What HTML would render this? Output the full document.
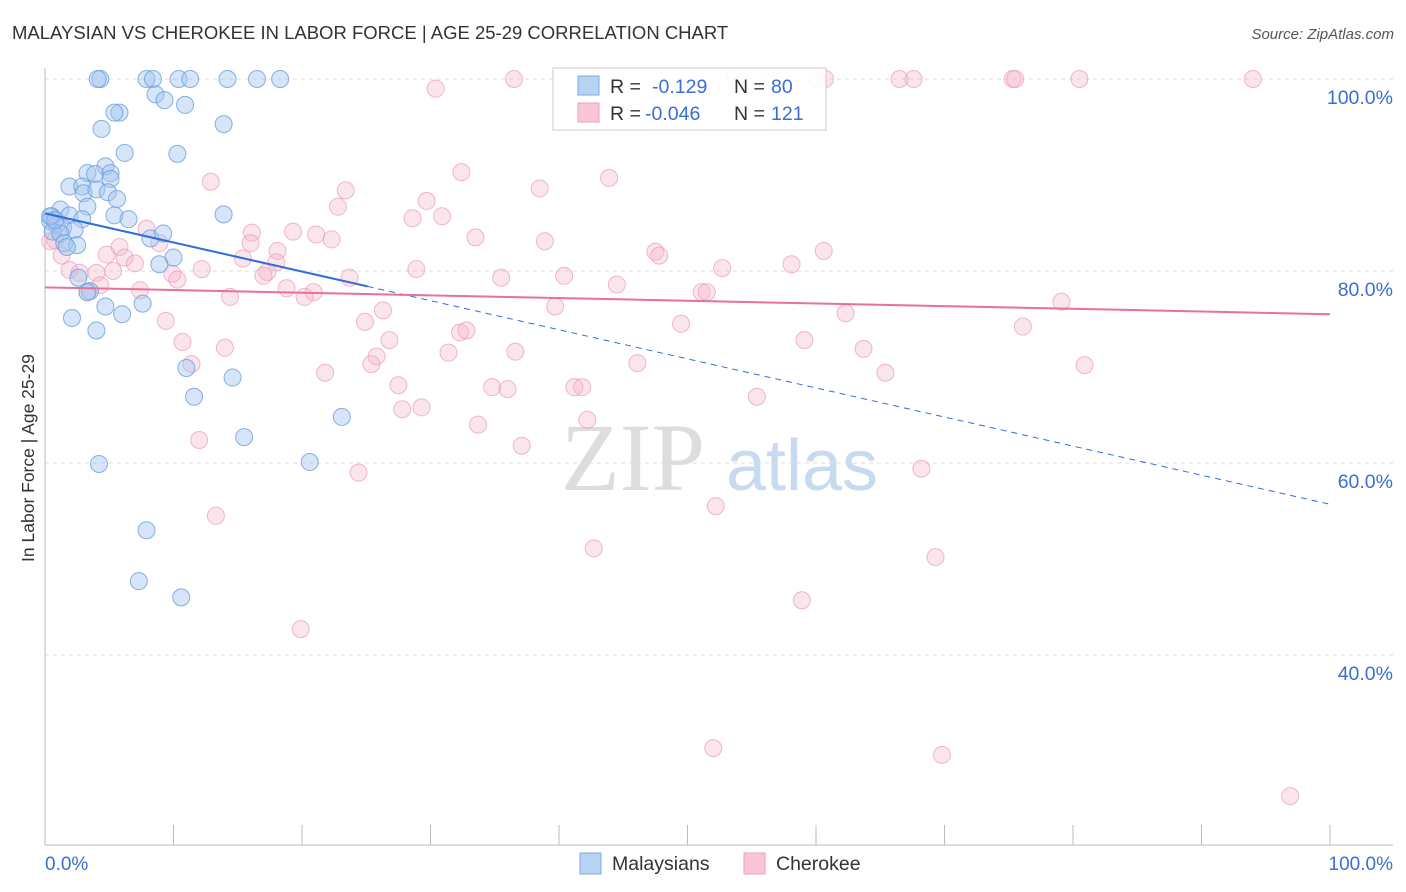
<!DOCTYPE html>
<html><head><meta charset="utf-8"><style>
body{margin:0;background:#fff;font-family:"Liberation Sans",sans-serif;}
svg{display:block}
</style></head><body>
<svg id="c" width="1406" height="892" xmlns="http://www.w3.org/2000/svg">
<text x="12" y="39" font-size="18.5" fill="#333">MALAYSIAN VS CHEROKEE IN LABOR FORCE | AGE 25-29 CORRELATION CHART</text>
<text x="1394" y="39" font-size="15" fill="#555" font-style="italic" text-anchor="end">Source: ZipAtlas.com</text>
<text transform="translate(34,458) rotate(-90)" font-size="17.5" fill="#333" text-anchor="middle">In Labor Force | Age 25-29</text>
<g><text x="633" y="490" font-size="96" fill="#ddd" font-family="Liberation Serif" text-anchor="middle">ZIP</text><text x="802" y="490" font-size="72" fill="#c8daf0" text-anchor="middle">atlas</text></g>
<g id="grid"></g><g id="axes"></g><g id="pts"></g><g id="trend"></g>
<g>
<rect x="553" y="68" width="273" height="62" fill="#fff" fill-opacity="0.9" stroke="#ccc"/>
<rect x="578" y="76" width="21" height="19" fill="#b8d2f4" stroke="#7aaae8"/>
<text x="610" y="93" font-size="19.5" fill="#333">R = </text><text x="652" y="93" font-size="19.5" fill="#3a6fd0">-0.129</text>
<text x="734" y="93" font-size="19.5" fill="#333">N = </text><text x="771" y="93" font-size="19.5" fill="#3a6fd0">80</text>
<rect x="578" y="103" width="21" height="19" fill="#f8c6d6" stroke="#eea0bc"/>
<text x="610" y="120" font-size="19.5" fill="#333">R = </text><text x="645" y="120" font-size="19.5" fill="#3a6fd0">-0.046</text>
<text x="734" y="120" font-size="19.5" fill="#333">N = </text><text x="771" y="120" font-size="19.5" fill="#3a6fd0">121</text>
</g>
<g>
<rect x="580" y="853" width="21" height="21" fill="#b8d2f4" stroke="#7aaae8"/>
<text x="612" y="870" font-size="19.5" fill="#333">Malaysians</text>
<rect x="744" y="853" width="21" height="21" fill="#f8c6d6" stroke="#eea0bc"/>
<text x="776" y="870" font-size="19.5" fill="#333">Cherokee</text>
</g>
</svg>
<script>
const blueX=[4.3,4.1,7.9,8.4,10.4,11.3,14.2,16.5,18.3,8.6,9.3,10.9,5.8,5.4,4.4,13.9,6.2,10.3,4.7,3.3,3.9,5.1,5.1,1.9,2.9,3.0,4.0,4.9,5.6,3.3,1.2,0.5,1.9,2.9,5.4,6.5,13.9,0.4,0.9,1.4,2.3,0.6,1.2,1.5,2.5,8.2,9.2,1.7,10.0,8.9,2.6,3.5,3.3,4.7,2.1,6.0,7.6,4.0,11.0,14.6,11.6,15.5,23.1,4.2,20.6,7.9,7.3,10.6,0.4,0.8];
const blueY=[100,100,100,100,100,100,100,100,100,98.4,97.8,97.3,96.5,96.5,94.8,95.3,92.3,92.2,90.9,90.2,90.1,90.2,89.6,88.8,88.8,88.1,88.5,88.2,87.5,86.7,86.4,85.7,85.8,85.4,85.8,85.4,85.9,85.2,84.8,84.5,84.3,84.1,83.9,82.9,82.7,83.4,83.9,82.5,81.4,80.7,79.3,77.9,77.8,76.3,75.1,75.5,76.6,73.8,69.9,68.9,66.9,62.7,64.8,59.9,60.1,53.0,47.7,46.0,85.7,85.3];
const pinkX=[36.5,53.7,56.3,60.1,60.7,66.5,67.6,75.3,75.5,80.5,94.0,30.4,32.4,43.9,12.9,38.5,23.4,29.7,22.8,28.6,30.9,7.9,33.5,19.3,21.1,22.3,16.1,38.9,5.8,8.9,16.0,18.1,47.5,47.8,60.6,4.8,6.2,7.0,15.4,18.0,12.2,17.3,1.9,2.7,4.0,5.3,9.9,10.3,17.0,23.7,28.9,35.5,40.4,52.7,58.1,4.3,18.8,20.9,20.2,14.4,44.5,51.1,51.5,79.1,7.4,26.3,9.4,24.9,39.7,49.5,62.3,76.1,10.7,14.0,26.8,32.3,32.8,25.8,25.4,31.4,36.6,46.1,63.7,59.1,11.4,21.8,65.4,80.9,27.5,34.8,36.0,41.2,41.8,27.8,29.3,42.2,55.4,33.7,37.1,12.0,24.4,68.2,13.3,52.2,42.7,69.3,58.9,19.9,52.0,69.8,96.9,0.4,1.3,3.3,0.8];
const pinkY=[100,100,100,100,100,100,100,100,100,100,100,99.0,90.3,89.7,89.3,88.6,88.4,87.3,86.7,85.5,85.7,84.4,83.5,84.1,83.8,83.3,84.0,83.1,82.5,82.9,82.9,82.1,82.0,81.6,82.1,81.7,81.4,80.8,81.3,80.9,80.2,79.9,80.1,79.8,79.8,80.0,79.7,79.1,79.5,79.3,80.2,79.3,79.5,80.3,80.7,78.5,78.2,77.8,77.3,77.3,78.6,77.8,77.8,76.8,78.0,75.9,74.8,74.7,76.3,74.5,75.6,74.2,72.6,72.0,72.8,73.6,73.8,71.1,70.3,71.5,71.6,70.4,71.9,72.8,70.3,69.4,69.4,70.2,68.1,67.9,67.7,67.9,67.9,65.6,65.8,64.5,66.9,64.0,61.8,62.4,59.0,59.4,54.5,55.5,51.1,50.2,45.7,42.7,30.3,29.6,25.3,83.1,81.6,77.8,83.2];
const yTicks=[100,80,60,40];
const yTickLabels=["100.0%","80.0%","60.0%","40.0%"];
const blueTrend=[86.0,55.7]; const blueSolidEnd=25.1;
const pinkTrend=[78.3,75.5];
const X=v=>45+v*12.85, Y=v=>1039-v*9.6;
const NS="http://www.w3.org/2000/svg";
function mk(p,t,a){const e=document.createElementNS(NS,t);for(const k in a)e.setAttribute(k,a[k]);p.appendChild(e);return e;}
const grid=document.getElementById('grid'),axes=document.getElementById('axes'),pts=document.getElementById('pts'),tr=document.getElementById('trend');
yTicks.forEach((t,i)=>{
 const l=mk(grid,'line',{x1:45,x2:1393,y1:Y(t),y2:Y(t),stroke:'#ddd','stroke-dasharray':'4,4'});
 
 
 const tx=mk(axes,'text',{x:1393,y:Y(t)+25,'font-size':19.5,fill:'#3a6fd0','text-anchor':'end'});
 tx.textContent=yTickLabels[i];
 
 
});
mk(axes,'line',{x1:45,x2:45,y1:68,y2:845,stroke:'#bbb'});
mk(axes,'line',{x1:45,x2:1393,y1:845,y2:845,stroke:'#bbb'});
for(let i=0;i<=10;i++){const t=mk(axes,'line',{x1:X(i*10),x2:X(i*10),y1:825,y2:845,stroke:'#bbb'});
 
 }
let a=mk(axes,'text',{x:45,y:870,'font-size':19,fill:'#3a6fd0'});a.textContent='0.0%';


a=mk(axes,'text',{x:1393,y:870,'font-size':19,fill:'#3a6fd0','text-anchor':'end'});a.textContent='100.0%';


pinkX.forEach((x,i)=>{const c=mk(pts,'circle',{cx:X(x),cy:Y(pinkY[i]),r:8.5,fill:'#f4b4ca','fill-opacity':0.35,stroke:'#eb9ab8','stroke-opacity':0.7});
 
 });
blueX.forEach((x,i)=>{const c=mk(pts,'circle',{cx:X(x),cy:Y(blueY[i]),r:8.5,fill:'#a4c6f0','fill-opacity':0.45,stroke:'#6a9ee0','stroke-opacity':0.8});
 
 });
const bAt=x=>blueTrend[0]+(blueTrend[1]-blueTrend[0])*x/100;
let l=mk(tr,'line',{x1:X(0),y1:Y(bAt(0)),x2:X(blueSolidEnd),y2:Y(bAt(blueSolidEnd)),stroke:'#2f6fd6','stroke-width':2});


l=mk(tr,'line',{x1:X(blueSolidEnd),y1:Y(bAt(blueSolidEnd)),x2:X(100),y2:Y(bAt(100)),stroke:'#2f6fd6','stroke-width':1,'stroke-dasharray':'6,5'});


l=mk(tr,'line',{x1:X(0),y1:Y(pinkTrend[0]),x2:X(100),y2:Y(pinkTrend[1]),stroke:'#e8709a','stroke-width':2});


</script>
</body></html>
